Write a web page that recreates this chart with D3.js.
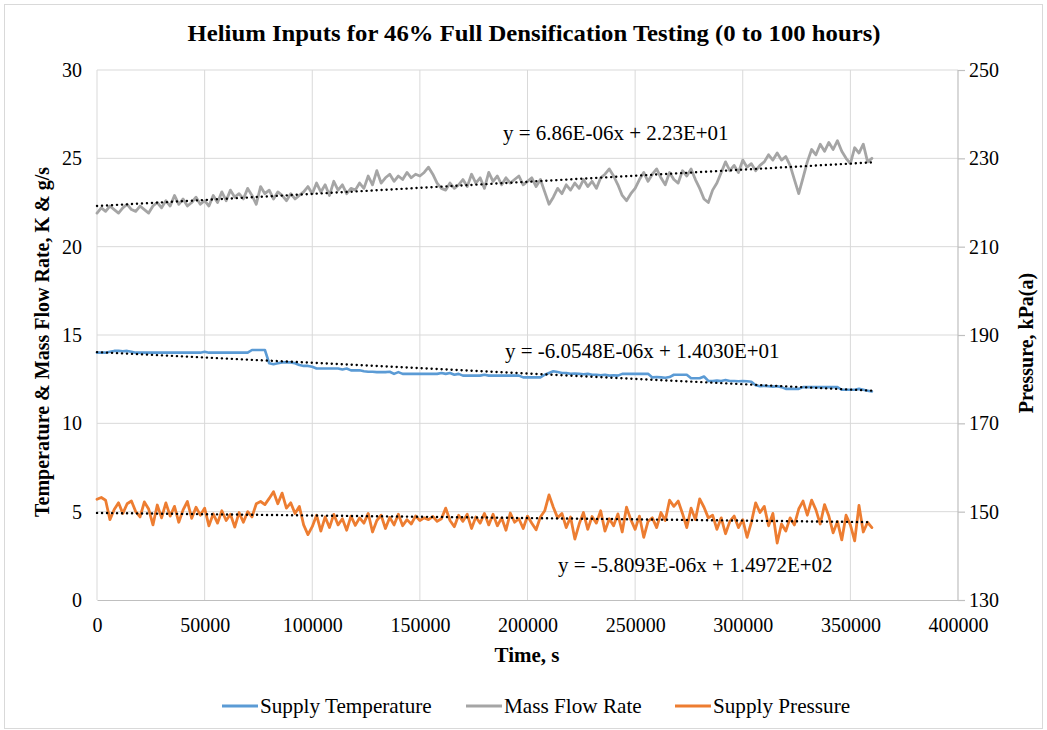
<!DOCTYPE html>
<html><head><meta charset="utf-8">
<script src="https://cdn.jsdelivr.net/npm/d3@7"></script>
<style>
body{margin:0;background:#fff}
svg{display:block}
text{font-family:"Liberation Serif","Times New Roman",Times,serif;fill:#000}
</style>
</head><body>
<svg id="chart" width="1047" height="730"></svg>
<script>
// ---- DATA ----
const title = "Helium Inputs for 46% Full Densification Testing (0 to 100 hours)";
const sampleInterval = 2000; // seconds between samples, first sample at t = 0

const supplyTemperature = [
14.0,14.0,14.0,14.05,14.1,14.1,14.08,14.1,14.05,
14.0,14.0,14.0,14.0,14.0,14.0,14.0,14.0,14.0,14.0,14.0,14.0,14.0,14.0,14.0,14.0,
14.05,
14.0,14.0,14.0,14.0,14.0,14.0,14.0,14.0,14.0,14.0,
14.15,14.15,14.15,14.15,
13.4,13.35,13.4,13.45,13.45,13.45,13.4,13.3,13.25,13.25,13.2,
13.1,13.1,13.1,13.1,13.1,13.1,
13.05,13.1,13.0,13.0,13.0,
12.95,12.92,12.92,12.9,12.9,12.9,12.92,
12.8,12.9,
12.8,12.8,12.8,12.8,12.8,12.8,12.8,12.8,12.8,
12.85,12.8,12.85,12.75,12.8,
12.7,12.7,12.7,12.7,12.7,
12.75,
12.7,12.7,12.7,12.7,12.7,12.7,12.7,12.7,
12.6,12.6,12.6,12.6,12.6,
12.75,12.85,12.95,12.9,
12.85,12.85,12.8,12.82,12.8,12.78,12.8,12.75,12.75,12.72,12.75,12.7,12.72,12.7,
12.8,12.8,12.8,12.8,12.8,12.8,12.8,
12.6,12.62,12.6,12.58,12.62,
12.75,12.75,12.75,12.75,
12.55,12.55,12.55,
12.65,
12.4,12.4,12.42,12.4,12.45,12.4,
12.4,12.38,12.4,12.38,12.35,
12.15,12.1,12.12,12.1,12.08,12.1,12.05,
11.95,11.95,11.95,11.95,
12.05,12.05,12.05,12.05,12.05,12.05,12.05,12.05,12.05,
11.9,11.9,11.9,11.9,
11.95,11.9,11.85,11.8
];

const massFlowRate = [
21.9,22.2,22.0,22.3,22.1,21.9,22.2,22.4,22.1,22.0,22.3,22.1,21.9,
22.3,22.5,22.2,22.6,22.3,22.9,22.4,22.7,22.3,22.5,22.8,22.4,22.6,
22.3,22.9,22.5,23.1,22.6,23.2,22.8,23.0,22.7,23.3,22.9,22.4,23.4,
23.0,23.2,22.7,23.1,22.9,22.6,23.0,22.7,22.9,23.1,
23.4,23.0,23.6,23.1,23.5,22.9,23.7,23.2,23.5,23.0,23.3,23.2,
23.6,23.3,24.0,23.5,24.3,23.6,23.9,24.1,23.7,24.0,23.8,24.2,23.9,24.1,24.0,24.2,24.5,24.1,
23.6,23.3,23.2,23.6,23.3,23.5,
23.8,23.4,24.1,23.6,23.9,23.3,24.2,23.7,24.0,23.5,23.9,23.6,23.8,24.0,23.5,23.7,
23.9,23.4,23.8,23.1,22.4,22.8,23.3,
23.0,23.5,23.2,23.6,23.3,23.8,23.4,23.7,23.3,23.9,24.1,24.4,24.0,
23.5,22.9,22.6,23.0,23.3,
23.8,24.2,23.7,24.1,24.4,23.9,23.5,24.2,23.8,23.6,24.3,24.0,24.4,23.8,
23.3,22.7,22.5,23.2,23.6,
24.2,24.8,24.3,24.6,24.2,24.9,24.5,24.7,24.3,24.6,24.8,25.2,24.9,25.3,24.9,25.1,24.6,
23.8,23.0,23.9,
24.8,25.5,25.2,25.8,25.4,25.9,25.5,26.0,25.4,25.0,24.7,25.6,25.3,25.8,24.8,25.0
];

const supplyPressure = [
152.8,153.2,152.6,148.2,150.5,
152.0,149.6,151.8,152.4,150.0,148.8,152.2,150.6,
147.0,151.5,148.6,152.0,149.0,151.2,147.6,150.4,152.3,148.5,151.0,149.2,
150.8,146.8,149.5,147.4,150.2,148.0,149.4,146.5,149.8,147.6,150.0,148.8,
151.8,152.3,151.6,153.0,154.5,151.8,154.2,
150.8,152.0,149.6,151.2,147.0,144.8,146.6,
149.2,145.6,148.8,146.4,149.4,147.0,148.4,145.8,149.0,146.9,148.6,147.4,149.6,145.4,148.0,149.2,146.2,148.7,147.0,149.4,146.8,148.2,147.2,149.0,148.0,
148.6,148.2,148.9,147.8,148.4,150.8,
148.0,146.6,149.2,147.8,149.4,146.2,148.8,147.4,149.6,
147.0,149.4,146.8,148.6,145.8,149.7,147.6,148.4,146.2,149.0,147.4,145.9,148.8,
150.2,153.8,151.0,148.6,
149.6,146.4,148.8,143.8,147.2,149.8,146.0,148.9,147.4,150.2,145.6,148.4,146.8,149.5,145.4,
151.0,148.2,146.0,149.0,144.2,147.8,148.6,146.4,149.8,148.0,
152.6,151.2,152.4,149.6,146.4,150.8,148.2,152.9,151.0,148.6,
149.2,146.0,148.6,145.0,147.8,149.0,146.4,148.2,144.2,147.6,
152.0,149.8,151.2,146.8,149.6,142.9,147.2,145.6,148.6,147.0,
150.6,152.4,149.2,152.6,150.4,147.2,151.6,149.0,145.2,147.8,
143.6,149.2,147.0,143.4,151.4,145.4,147.6,146.4
];

const xTicks = [0,50000,100000,150000,200000,250000,300000,350000,400000];
const leftTicks = [0,5,10,15,20,25,30];
const rightTicks = [130,150,170,190,210,230,250];

const seriesNames = ["Supply Temperature","Mass Flow Rate","Supply Pressure"];
const seriesColors = ["#5b9bd5","#a5a5a5","#ed7d31"];

// linear trendlines as printed on the chart
const trendSlopes = [-6.0548e-6, 6.86e-6, -5.8093e-6];
const trendIntercepts = [14.030, 22.3, 149.72];
const trendLabels = ["y = -6.0548E-06x + 1.4030E+01","y = 6.86E-06x + 2.23E+01","y = -5.8093E-06x + 1.4972E+02"];

// ---- DRAWING ----
const svg = d3.select("#chart");
const W = 1047, H = 730;
const plot = {left: 97, right: 958, top: 70, bottom: 600};
const FS = 20;

function addText(px, py, str, opt = {}) {
  const sx = opt.sx || 1;
  const rot = opt.rotate ? ` rotate(${opt.rotate})` : "";
  return svg.append("text")
    .attr("transform", `translate(${px},${py})${rot} scale(${sx},1)`)
    .attr("text-anchor", opt.anchor || "start")
    .attr("font-size", opt.size || FS)
    .attr("font-weight", opt.bold ? "bold" : "normal")
    .text(str);
}

svg.append("rect").attr("x",4.5).attr("y",4.5).attr("width",W-9).attr("height",H-6)
  .attr("fill","#fff").attr("stroke","#d9d9d9");

const x = d3.scaleLinear().domain([0,400000]).range([plot.left, plot.right]);
const yL = d3.scaleLinear().domain([0,30]).range([plot.bottom, plot.top]);
const yR = d3.scaleLinear().domain([130,250]).range([plot.bottom, plot.top]);

// grid
const grid = svg.append("g");
grid.selectAll("line.v").data(xTicks.filter(d=>d<400000)).join("line")
  .attr("x1",d=>x(d)).attr("x2",d=>x(d)).attr("y1",plot.top).attr("y2",plot.bottom)
  .attr("stroke","#d9d9d9").attr("stroke-width",1);
grid.selectAll("line.h").data(leftTicks.filter(d=>d>0)).join("line")
  .attr("x1",plot.left).attr("x2",plot.right).attr("y1",d=>yL(d)).attr("y2",d=>yL(d))
  .attr("stroke","#d9d9d9").attr("stroke-width",1);

// axes
const xAxis = d3.axisBottom(x).tickValues(xTicks).tickSize(0).tickPadding(18).tickFormat(d3.format("d"));
const gx = svg.append("g").attr("transform",`translate(0,${plot.bottom})`).call(xAxis);
gx.select(".domain").attr("stroke","#bfbfbf").attr("stroke-width",1.2);
gx.selectAll("text").attr("font-size",FS).attr("font-family","Liberation Serif");

const yAxisL = d3.axisLeft(yL).tickValues(leftTicks).tickSize(0).tickPadding(15);
const gyl = svg.append("g").attr("transform",`translate(${plot.left},0)`).call(yAxisL);
gyl.select(".domain").remove();
gyl.selectAll("text").attr("font-size",FS).attr("font-family","Liberation Serif");

const yAxisR = d3.axisRight(yR).tickValues(rightTicks).tickSize(7).tickPadding(4);
const gyr = svg.append("g").attr("transform",`translate(${plot.right},0)`).call(yAxisR);
gyr.select(".domain").attr("stroke","#bfbfbf").attr("stroke-width",1.2).attr("d",`M0,${plot.top}V${plot.bottom}`);
gyr.selectAll(".tick line").attr("stroke","#bfbfbf").attr("stroke-width",1.2);
gyr.selectAll("text").attr("font-size",FS).attr("font-family","Liberation Serif");

// series
const timeOf = i => i * sampleInterval;
const lineL = d3.line().x((d,i)=>x(timeOf(i))).y(d=>yL(d));
const lineR = d3.line().x((d,i)=>x(timeOf(i))).y(d=>yR(d));
const seriesData = [supplyTemperature, massFlowRate, supplyPressure];
const seriesLines = [lineL, lineL, lineR];
const seriesScales = [yL, yL, yR];
seriesData.forEach((data,k)=>{
  svg.append("path").datum(data).attr("d",seriesLines[k])
    .attr("fill","none").attr("stroke",seriesColors[k]).attr("stroke-width",k===0?2.6:2.8)
    .attr("stroke-linejoin","round").attr("stroke-linecap","round");
});

// trendlines
seriesData.forEach((data,k)=>{
  const tEnd = timeOf(data.length-1);
  const ys = seriesScales[k];
  svg.append("line")
    .attr("x1",x(0)).attr("y1",ys(trendIntercepts[k]))
    .attr("x2",x(tEnd)).attr("y2",ys(trendIntercepts[k]+trendSlopes[k]*tEnd))
    .attr("stroke","#000").attr("stroke-width",2.4)
    .attr("stroke-dasharray","0.1 4.9").attr("stroke-linecap","round");
});

// trend labels
const labelPos = [[505,358],[503,140],[558,572]];
trendLabels.forEach((t,k)=>{
  addText(labelPos[k][0], labelPos[k][1], t, {sx:1.05});
});

// title
addText(534, 41, title, {size:24, bold:true, anchor:"middle", sx:1.03});

// axis titles
addText(49, 342, "Temperature & Mass Flow Rate, K & g/s", {bold:true, anchor:"middle", rotate:-90});
addText(1033, 343, "Pressure, kPa(a)", {bold:true, anchor:"middle", rotate:-90});
addText(527, 662, "Time, s", {bold:true, anchor:"middle", sx:1.05});

// legend
const legendX = [222,466,675];
seriesNames.forEach((n,k)=>{
  const g = svg.append("g").attr("transform",`translate(${legendX[k]},706)`);
  g.append("line").attr("x1",0).attr("x2",36).attr("y1",0).attr("y2",0)
    .attr("stroke",seriesColors[k]).attr("stroke-width",2.8);
  g.append("text").attr("transform","translate(38,7) scale(1.06,1)").attr("font-size",FS).text(n);
});
</script>
</body></html>
